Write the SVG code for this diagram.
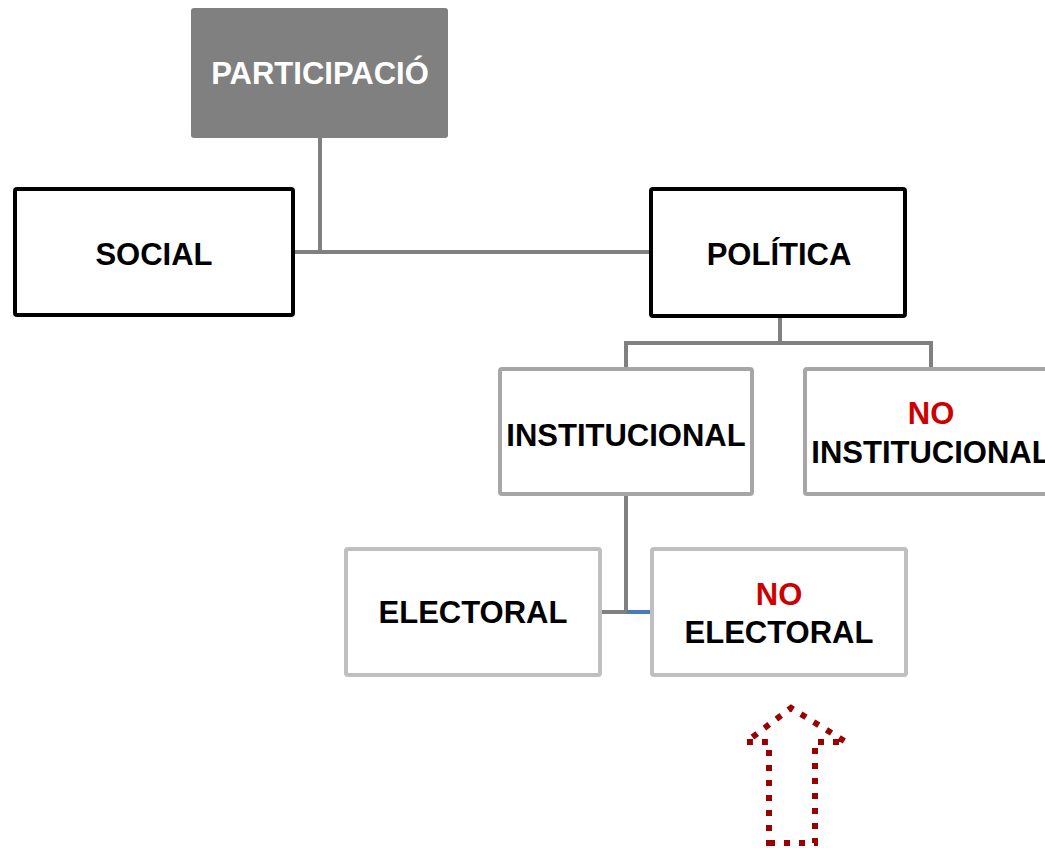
<svg xmlns="http://www.w3.org/2000/svg" width="1045" height="848" viewBox="0 0 1045 848">
<style>
text{font-family:"Liberation Sans",Arial,sans-serif;font-weight:bold;font-size:31px;text-anchor:middle;fill:#000}
.w{fill:#fff}
.r{fill:#cc0000}
.conn{fill:none;stroke:#808080;stroke-width:4}
.b1{fill:#fff;stroke:#000;stroke-width:4}
.b2{fill:#fff;stroke:#a6a6a6;stroke-width:4}
.b3{fill:#fff;stroke:#bfbfbf;stroke-width:4}
</style>
<rect width="1045" height="848" fill="#fff"/>
<g id="connectors">
<path class="conn" d="M320 138 V252 M295 252 H651"/>
<path class="conn" d="M780 317 V343 M626 367 V343 H931 V367"/>
<path class="conn" d="M626 494 V612 H602"/>
<path fill="none" stroke="#4a7ab8" stroke-width="4" d="M627 612 H650"/>
</g>
<g id="participacio">
<rect x="191" y="8" width="257" height="130" rx="3" fill="#808080"/>
<text class="w" x="320" y="84">PARTICIPACIÓ</text>
</g>
<g id="social">
<rect class="b1" x="15" y="189" width="278" height="126" rx="2"/>
<text x="154" y="265">SOCIAL</text>
</g>
<g id="politica">
<rect class="b1" x="651" y="189" width="254" height="127" rx="2"/>
<text x="779" y="265">POLÍTICA</text>
</g>
<g id="institucional">
<rect class="b2" x="500" y="369" width="252" height="125" rx="2"/>
<text x="626" y="446">INSTITUCIONAL</text>
</g>
<g id="no-institucional">
<rect class="b2" x="805" y="369" width="252" height="125" rx="2"/>
<text class="r" x="931" y="424">NO</text>
<text x="931" y="463">INSTITUCIONAL</text>
</g>
<g id="electoral">
<rect class="b3" x="346" y="549" width="254" height="126" rx="2"/>
<text x="473" y="623">ELECTORAL</text>
</g>
<g id="no-electoral">
<rect class="b3" x="652" y="549" width="254" height="126" rx="2"/>
<text class="r" x="779" y="605">NO</text>
<text x="779" y="643">ELECTORAL</text>
</g>
<g id="arrow">
<path d="M769 843 H815 V742 H846 L791 708 L746 742 H769 Z" fill="none" stroke="#990000" stroke-width="6" stroke-dasharray="6 9"/>
</g>
</svg>
